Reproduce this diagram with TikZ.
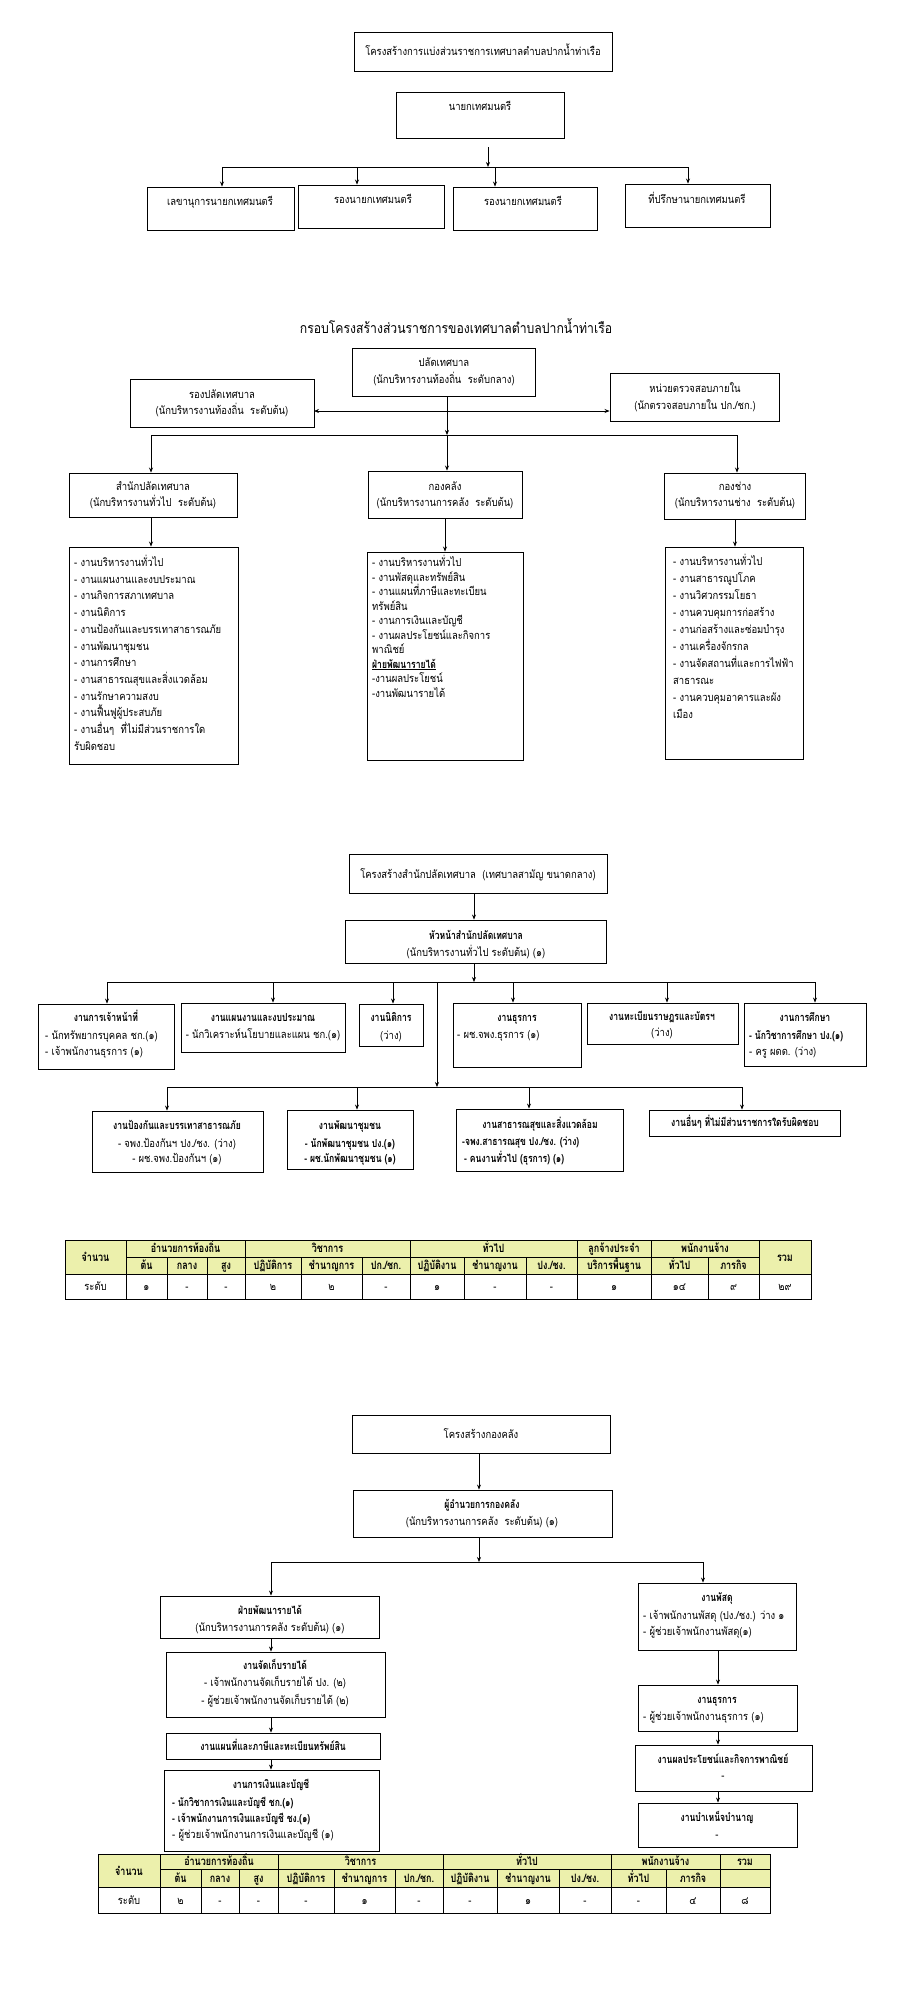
\documentclass[tikz,border=0pt]{standalone}
\usepackage{fontspec}
\setmainfont{Loma}[Script=Thai, UprightFeatures={FakeStretch=0.86}, BoldFeatures={FakeStretch=0.78}]
\usetikzlibrary{arrows.meta,fit}
\definecolor{hdr}{RGB}{236,240,172}
\tikzset{
 bx/.style={draw, line width=0.9pt, inner sep=0pt},
 con/.style={line width=0.7pt},
 arr/.style={con, -{Stealth[length=5pt,width=4pt]}},
 darr/.style={con, {Stealth[length=5pt,width=4pt]}-{Stealth[length=5pt,width=4pt]}},
 t/.style={inner sep=0pt, anchor=base, font=\fontsize{11}{12}\selectfont},
 tb/.style={inner sep=0pt, anchor=base, font=\fontsize{11}{12}\selectfont\bfseries},
 tl/.style={t, anchor=base west},
 tlb/.style={tb, anchor=base west},
 big/.style={inner sep=0pt, anchor=base, font=\fontsize{14.2}{16}\selectfont},
 th/.style={inner sep=0pt, anchor=base, font=\fontsize{11.5}{12}\selectfont\bfseries},
 td/.style={inner sep=0pt, anchor=base, font=\fontsize{11}{12}\selectfont},
}
\newcommand\Bx[5]{\node[bx, fit={(#2,#3) (#4,#5)}] (#1) {};}
\newcommand\Lst[6]{\foreach \s [count=\i from 0] in {#6} {\node[#5] (#1-\i) at (#2, {#3+\i*#4}) {\s};}}
\begin{document}
\begin{tikzpicture}[x=1pt,y=-1pt]
\fill[white] (0,0) rectangle (900,1990);
\useasboundingbox (0,0) rectangle (900,1990);

% ---------------- Section 1
\Bx{T1}{354}{32}{612}{71}
\node[t] (T1t) at (483,55.5) {โครงสร้างการแบ่งส่วนราชการเทศบาลตำบลปากน้ำท่าเรือ};
\Bx{N}{396}{92}{564}{138}
\node[t] (Nt) at (480,110.5) {นายกเทศมนตรี};
\coordinate (a1s) at (488,147); \coordinate (a1e) at (488,167);
\draw[arr] (a1s) -- (a1e);
\coordinate (bus1l) at (222,167); \coordinate (bus1r) at (688,167);
\coordinate (d12) at (357,167); \coordinate (d13) at (495,167);
\draw[con] (bus1l) -- (bus1r);
\Bx{B1}{147}{187}{294}{230}
\Bx{B2}{298}{185}{444}{228}
\Bx{B3}{453}{187}{597}{230}
\Bx{B4}{625}{184}{770}{227}
\draw[arr] (bus1l) -- (bus1l |- B1.north);
\draw[arr] (d12) -- (d12 |- B2.north);
\draw[arr] (d13) -- (d13 |- B3.north);
\draw[arr] (bus1r) -- (bus1r |- B4.north);
\node[t] (B1t) at (220,205.5) {เลขานุการนายกเทศมนตรี};
\node[t] (B2t) at (373,203.5) {รองนายกเทศมนตรี};
\node[t] (B3t) at (523,205.5) {รองนายกเทศมนตรี};
\node[t] (B4t) at (697,203.5) {ที่ปรึกษานายกเทศมนตรี};

% ---------------- Section 2
\node[big] (T2) at (456,333) {กรอบโครงสร้างส่วนราชการของเทศบาลตำบลปากน้ำท่าเรือ};
\Bx{P}{352}{348}{535}{396}
\node[t] (Pt1) at (444,366.5) {ปลัดเทศบาล};
\node[t] (Pt2) at (444,383.5) {(นักบริหารงานท้องถิ่น\ \ ระดับกลาง)};
\Bx{R}{130}{379}{314}{427}
\node[t] (Rt1) at (222,398.5) {รองปลัดเทศบาล};
\node[t] (Rt2) at (222,414.5) {(นักบริหารงานท้องถิ่น\ \ ระดับต้น)};
\Bx{I}{610}{373}{779}{421}
\node[t] (It1) at (695,392.5) {หน่วยตรวจสอบภายใน};
\node[t] (It2) at (695,409.5) {(นักตรวจสอบภายใน ปก./ชก.)};
\coordinate (dl) at (314,411);
\draw[darr] (dl) -- (dl -| I.west);
\coordinate (pdrop) at (447,396); \coordinate (bus2c) at (447,435);
\draw[arr] (pdrop) -- (bus2c);
\coordinate (bus2l) at (151,435); \coordinate (bus2r) at (737,435);
\draw[con] (bus2l) -- (bus2r);
\Bx{S}{69}{473}{237}{517}
\Bx{K}{368}{471}{522}{518}
\Bx{C}{664}{473}{805}{519}
\draw[arr] (bus2l) -- (bus2l |- S.north);
\draw[arr] (bus2c) -- (bus2c |- K.north);
\draw[arr] (bus2r) -- (bus2r |- C.north);
\node[t] (St1) at (153,490.5) {สำนักปลัดเทศบาล};
\node[t] (St2) at (153,506.5) {(นักบริหารงานทั่วไป\ \ ระดับต้น)};
\node[t] (Kt1) at (445,490.5) {กองคลัง};
\node[t] (Kt2) at (445,506.5) {(นักบริหารงานการคลัง\ \ ระดับต้น)};
\node[t] (Ct1) at (735,490.5) {กองช่าง};
\node[t] (Ct2) at (735,506.5) {(นักบริหารงานช่าง\ \ ระดับต้น)};
\Bx{L1}{69}{547}{238}{764}
\Bx{L2}{367}{552}{523}{760}
\Bx{L3}{665}{547}{803}{759}
\coordinate (s1) at (151,517); \coordinate (k1) at (445,518); \coordinate (c1) at (735,519);
\draw[arr] (s1) -- (s1 |- L1.north);
\draw[arr] (k1) -- (k1 |- L2.north);
\draw[arr] (c1) -- (c1 |- L3.north);
\Lst{L1t}{74}{566.5}{16.7}{tl}{- งานบริหารงานทั่วไป, - งานแผนงานและงบประมาณ, - งานกิจการสภาเทศบาล, - งานนิติการ, - งานป้องกันและบรรเทาสาธารณภัย, - งานพัฒนาชุมชน, - งานการศึกษา, - งานสาธารณสุขและสิ่งแวดล้อม, - งานรักษาความสงบ, - งานฟื้นฟูผู้ประสบภัย, - งานอื่นๆ\ \ ที่ไม่มีส่วนราชการใด, รับผิดชอบ}
\Lst{L2t}{372}{566.5}{14.5}{tl}{- งานบริหารงานทั่วไป, - งานพัสดุและทรัพย์สิน, - งานแผนที่ภาษีและทะเบียน, ทรัพย์สิน, - งานการเงินและบัญชี, - งานผลประโยชน์และกิจการ, พาณิชย์, {\bfseries\underline{ฝ่ายพัฒนารายได้}}, -งานผลประโยชน์, -งานพัฒนารายได้}
\Lst{L3t}{673}{565.5}{17}{tl}{- งานบริหารงานทั่วไป, - งานสาธารณูปโภค, - งานวิศวกรรมโยธา, - งานควบคุมการก่อสร้าง, - งานก่อสร้างและซ่อมบำรุง, - งานเครื่องจักรกล, - งานจัดสถานที่และการไฟฟ้า, สาธารณะ, - งานควบคุมอาคารและผัง, เมือง}

% ---------------- Section 3
\Bx{T3}{349}{854}{607}{893}
\node[t] (T3t) at (478,878.5) {โครงสร้างสำนักปลัดเทศบาล\ \ (เทศบาลสามัญ ขนาดกลาง)};
\Bx{H}{345}{920}{606}{963}
\coordinate (h0) at (474,893);
\draw[arr] (h0) -- (h0 |- H.north);
\node[tb] (Ht1) at (476,939.5) {หัวหน้าสำนักปลัดเทศบาล};
\node[t] (Ht2) at (476,956.5) {(นักบริหารงานทั่วไป ระดับต้น) (๑)};
\coordinate (h1) at (474,963); \coordinate (h1e) at (474,982);
\draw[arr] (h1) -- (h1e);
\coordinate (bus3l) at (107,982); \coordinate (bus3r) at (815,982);
\draw[con] (bus3l) -- (bus3r);
\coordinate (v3) at (437,982); \coordinate (bus4m) at (437,1087);
\draw[arr] (v3) -- (bus4m);
\Bx{E1}{38}{1004}{174}{1069}
\Bx{E2}{181}{1003}{345}{1052}
\Bx{E3}{359}{1004}{423}{1046}
\Bx{E4}{453}{1003}{581}{1067}
\Bx{E5}{587}{1003}{738}{1044}
\Bx{E6}{744}{1003}{866}{1066}
\coordinate (e2) at (273,982); \coordinate (e3) at (393,982);
\coordinate (e4) at (513,982); \coordinate (e5) at (667,982);
\draw[arr] (bus3l) -- (bus3l |- E1.north);
\draw[arr] (e2) -- (e2 |- E2.north);
\draw[arr] (e3) -- (e3 |- E3.north);
\draw[arr] (e4) -- (e4 |- E4.north);
\draw[arr] (e5) -- (e5 |- E5.north);
\draw[arr] (bus3r) -- (bus3r |- E6.north);
\node[tb] (E1t) at (106,1021.5) {งานการเจ้าหน้าที่};
\node[tl] (E1a) at (45,1039.5) {- นักทรัพยากรบุคคล ชก.(๑)};
\node[tl] (E1b) at (45,1055.5) {- เจ้าพนักงานธุรการ (๑)};
\node[tb] (E2t) at (263,1021.5) {งานแผนงานและงบประมาณ};
\node[t] (E2a) at (263,1038.5) {- นักวิเคราะห์นโยบายและแผน ชก.(๑)};
\node[tb] (E3t) at (391,1021.5) {งานนิติการ};
\node[t] (E3a) at (391,1039.5) {(ว่าง)};
\node[tb] (E4t) at (517,1021.5) {งานธุรการ};
\node[tl] (E4a) at (457,1038.5) {- ผช.จพง.ธุรการ (๑)};
\node[tb] (E5t) at (662,1020.5) {งานทะเบียนราษฎรและบัตรฯ};
\node[t] (E5a) at (662,1036.5) {(ว่าง)};
\node[tb] (E6t) at (805,1021.5) {งานการศึกษา};
\node[tlb] (E6a) at (749,1039.5) {- นักวิชาการศึกษา ปง.(๑)};
\node[tl] (E6b) at (749,1055.5) {- ครู ผดด. (ว่าง)};
\coordinate (bus4l) at (167,1087); \coordinate (bus4r) at (742,1087);
\draw[con] (bus4l) -- (bus4r);
\coordinate (f2) at (357,1087); \coordinate (f3) at (529,1087);
\Bx{F1}{92}{1111}{263}{1172}
\Bx{F2}{287}{1110}{413}{1169}
\Bx{F3}{456}{1109}{623}{1171}
\Bx{F4}{649}{1110}{840}{1136}
\draw[arr] (bus4l) -- (bus4l |- F1.north);
\draw[arr] (f2) -- (f2 |- F2.north);
\draw[arr] (f3) -- (f3 |- F3.north);
\draw[arr] (bus4r) -- (bus4r |- F4.north);
\node[tb] (F1t) at (177,1129.5) {งานป้องกันและบรรเทาสาธารณภัย};
\node[t] (F1a) at (177,1147.5) {- จพง.ป้องกันฯ ปง./ชง. (ว่าง)};
\node[t] (F1b) at (177,1162.5) {- ผช.จพง.ป้องกันฯ (๑)};
\node[tb] (F2t) at (350,1129.5) {งานพัฒนาชุมชน};
\node[tb] (F2a) at (350,1147.5) {- นักพัฒนาชุมชน ปง.(๑)};
\node[tb] (F2b) at (350,1162.5) {- ผช.นักพัฒนาชุมชน (๑)};
\node[tb] (F3t) at (540,1128.5) {งานสาธารณสุขและสิ่งแวดล้อม};
\node[tlb] (F3a) at (462,1145.5) {-จพง.สาธารณสุข ปง./ชง. (ว่าง)};
\node[tlb] (F3b) at (464,1162.5) {- คนงานทั่วไป (ธุรการ) (๑)};
\node[tb] (F4t) at (745,1126.5) {งานอื่นๆ ที่ไม่มีส่วนราชการใดรับผิดชอบ};

% ---------------- Table 1
\fill[hdr] (65,1240) rectangle (811,1274);
\draw[line width=0.8pt] (65,1240) rectangle (811,1299);
\draw[line width=0.6pt] (126,1257) -- (759,1257);
\draw[line width=0.6pt] (65,1274) -- (811,1274);
\foreach \x in {126,245,410,577,651,759} \draw[line width=0.6pt] (\x,1240) -- (\x,1299);
\foreach \x in {167,207,301,362,464,526,708} \draw[line width=0.6pt] (\x,1257) -- (\x,1299);
\node[th] (ta1) at (95.5,1261) {จำนวน};
\node[th] (ta2) at (185.5,1252.5) {อำนวยการท้องถิ่น};
\node[th] (ta3) at (327.5,1252.5) {วิชาการ};
\node[th] (ta4) at (493.5,1252.5) {ทั่วไป};
\node[th] (ta5) at (614,1252.5) {ลูกจ้างประจำ};
\node[th] (ta6) at (705,1252.5) {พนักงานจ้าง};
\node[th] (ta7) at (785,1261) {รวม};
\foreach \a/\b/\s [count=\i] in {126/167/ต้น, 167/207/กลาง, 207/245/สูง, 245/301/ปฏิบัติการ, 301/362/ชำนาญการ, 362/410/{ปก./ชก.}, 410/464/ปฏิบัติงาน, 464/526/ชำนาญงาน, 526/577/{ปง./ชง.}, 577/651/บริการพื้นฐาน, 651/708/ทั่วไป, 708/759/ภารกิจ}
  \node[th] (tb\i) at ({(\a+\b)/2},1269.5) {\s};
\foreach \a/\b/\s [count=\i] in {65/126/ระดับ, 126/167/๑, 167/207/-, 207/245/-, 245/301/๒, 301/362/๒, 362/410/-, 410/464/๑, 464/526/-, 526/577/-, 577/651/๑, 651/708/๑๔, 708/759/๙, 759/811/๒๙}
  \node[td] (tc\i) at ({(\a+\b)/2},1290.5) {\s};

% ---------------- Section 4
\Bx{K1}{352}{1415}{610}{1453}
\node[t] (K1t) at (481,1438.5) {โครงสร้างกองคลัง};
\Bx{K2}{353}{1490}{612}{1537}
\coordinate (k10) at (479,1453);
\draw[arr] (k10) -- (k10 |- K2.north);
\node[tb] (K2t1) at (482,1508.5) {ผู้อำนวยการกองคลัง};
\node[t] (K2t2) at (482,1525.5) {(นักบริหารงานการคลัง\ \ ระดับต้น) (๑)};
\coordinate (k20) at (479,1537); \coordinate (bus5c) at (479,1562);
\draw[arr] (k20) -- (bus5c);
\coordinate (bus5l) at (271,1562); \coordinate (bus5r) at (703,1562);
\draw[con] (bus5l) -- (bus5r);
\Bx{K3}{160}{1596}{379}{1638}
\Bx{K4}{638}{1583}{796}{1650}
\draw[arr] (bus5l) -- (bus5l |- K3.north);
\draw[arr] (bus5r) -- (bus5r |- K4.north);
\node[tb] (K3t1) at (270,1614.5) {ฝ่ายพัฒนารายได้};
\node[t] (K3t2) at (270,1631.5) {(นักบริหารงานการคลัง ระดับต้น) (๑)};
\node[tb] (K4t1) at (717,1601.5) {งานพัสดุ};
\node[tl] (K4a) at (643,1619.5) {- เจ้าพนักงานพัสดุ (ปง./ชง.) ว่าง ๑};
\node[tl] (K4b) at (643,1635.5) {- ผู้ช่วยเจ้าพนักงานพัสดุ(๑)};
\Bx{K5}{166}{1652}{385}{1717}
\Bx{K6}{166}{1733}{380}{1759}
\Bx{K7}{164}{1770}{379}{1851}
\coordinate (l1) at (271,1638); \coordinate (l2) at (271,1717); \coordinate (l3) at (271,1759);
\draw[arr] (l1) -- (l1 |- K5.north);
\draw[arr] (l2) -- (l2 |- K6.north);
\draw[arr] (l3) -- (l3 |- K7.north);
\node[tb] (K5t) at (275,1669.5) {งานจัดเก็บรายได้};
\node[t] (K5a) at (275,1686.5) {- เจ้าพนักงานจัดเก็บรายได้ ปง. (๒)};
\node[t] (K5b) at (275,1704.5) {- ผู้ช่วยเจ้าพนักงานจัดเก็บรายได้ (๒)};
\node[tb] (K6t) at (273,1750.5) {งานแผนที่และภาษีและทะเบียนทรัพย์สิน};
\node[tb] (K7t) at (271,1788.5) {งานการเงินและบัญชี};
\node[tlb] (K7a) at (172,1806.5) {- นักวิชาการเงินและบัญชี ชก.(๑)};
\node[tlb] (K7b) at (172,1822.5) {- เจ้าพนักงานการเงินและบัญชี ชง.(๑)};
\node[tl] (K7c) at (172,1838.5) {- ผู้ช่วยเจ้าพนักงานการเงินและบัญชี (๑)};
\Bx{K8}{638}{1685}{797}{1731}
\Bx{K9}{635}{1745}{812}{1791}
\Bx{K10}{638}{1803}{797}{1847}
\coordinate (r1) at (718,1650); \coordinate (r2) at (718,1731); \coordinate (r3) at (718,1791);
\draw[arr] (r1) -- (r1 |- K8.north);
\draw[arr] (r2) -- (r2 |- K9.north);
\draw[arr] (r3) -- (r3 |- K10.north);
\node[tb] (K8t) at (717,1703.5) {งานธุรการ};
\node[tl] (K8a) at (643,1720.5) {- ผู้ช่วยเจ้าพนักงานธุรการ (๑)};
\node[tb] (K9t) at (723,1763.5) {งานผลประโยชน์และกิจการพาณิชย์};
\node[t] (K9a) at (723,1779.5) {-};
\node[tb] (K10t) at (717,1821.5) {งานบำเหน็จบำนาญ};
\node[t] (K10a) at (717,1838.5) {-};

% ---------------- Table 2
\fill[hdr] (98,1854) rectangle (770,1887);
\draw[line width=0.8pt] (98,1854) rectangle (770,1913);
\draw[line width=0.6pt] (160,1869) -- (770,1869);
\draw[line width=0.6pt] (98,1887) -- (770,1887);
\foreach \x in {160,278,443,611,720} \draw[line width=0.6pt] (\x,1854) -- (\x,1913);
\foreach \x in {201,239,334,395,497,559,666} \draw[line width=0.6pt] (\x,1869) -- (\x,1913);
\node[th] (ua1) at (129,1875) {จำนวน};
\node[th] (ua2) at (219,1865.5) {อำนวยการท้องถิ่น};
\node[th] (ua3) at (360.5,1865.5) {วิชาการ};
\node[th] (ua4) at (527,1865.5) {ทั่วไป};
\node[th] (ua5) at (665.5,1865.5) {พนักงานจ้าง};
\node[th] (ua6) at (745,1865.5) {รวม};
\foreach \a/\b/\s [count=\i] in {160/201/ต้น, 201/239/กลาง, 239/278/สูง, 278/334/ปฏิบัติการ, 334/395/ชำนาญการ, 395/443/{ปก./ชก.}, 443/497/ปฏิบัติงาน, 497/559/ชำนาญงาน, 559/611/{ปง./ชง.}, 611/666/ทั่วไป, 666/720/ภารกิจ}
  \node[th] (ub\i) at ({(\a+\b)/2},1882) {\s};
\foreach \a/\b/\s [count=\i] in {98/160/ระดับ, 160/201/๒, 201/239/-, 239/278/-, 278/334/-, 334/395/๑, 395/443/-, 443/497/-, 497/559/๑, 559/611/-, 611/666/-, 666/720/๔, 720/770/๘}
  \node[td] (uc\i) at ({(\a+\b)/2},1904) {\s};
\end{tikzpicture}
\end{document}
